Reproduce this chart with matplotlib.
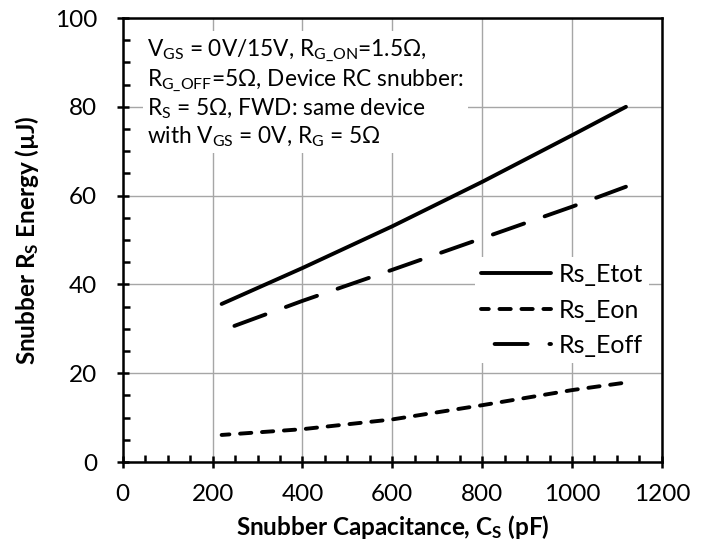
import numpy as np
import matplotlib.pyplot as plt
from matplotlib.ticker import MultipleLocator

plt.rcParams["font.family"] = ["Lato", "DejaVu Sans"]
plt.rcParams["mathtext.fontset"] = "custom"
plt.rcParams["mathtext.rm"] = "Lato"
plt.rcParams["mathtext.it"] = "Lato:italic"
plt.rcParams["mathtext.bf"] = "Lato:bold"

# snubber capacitance (pF) and energies (uJ)
cs_pf = [220, 400, 600, 800, 1000, 1120]
rs_etot = [35.6, 43.7, 53.1, 63.1, 73.6, 80.0]
rs_eon = [6.1, 7.4, 9.6, 12.8, 16.2, 17.9]
rs_eoff = [29.6, 36.3, 43.3, 50.4, 57.5, 62.0]

fig = plt.figure(figsize=(7.14, 5.54), dpi=100)
ax = fig.add_axes([0.172, 0.166, 0.755, 0.8015])

lw = 2.8
ax.plot(cs_pf, rs_etot, color="black", lw=lw, solid_capstyle="round", label="Rs_Etot")
ax.plot(cs_pf, rs_eon, color="black", lw=lw, linestyle=(0.9, (2.9, 2.75)),
        dash_capstyle="round", label="Rs_Eon")
ax.plot(cs_pf, rs_eoff, color="black", lw=lw, linestyle=(10.6, (8.5, 5.6)),
        dash_capstyle="round", label="Rs_Eoff")

ax.set_xlim(0, 1200)
ax.set_ylim(0, 100)
ax.xaxis.set_major_locator(MultipleLocator(200))
ax.xaxis.set_minor_locator(MultipleLocator(50))
ax.yaxis.set_major_locator(MultipleLocator(20))
ax.yaxis.set_minor_locator(MultipleLocator(5))
ax.tick_params(which="major", direction="inout", length=9, width=1.8,
               labelsize=17.5)
ax.tick_params(axis="x", which="major", pad=11)
ax.tick_params(axis="y", which="major", pad=14)
ax.tick_params(which="minor", direction="in", length=5, width=1.8)
ax.grid(True, which="major", color="#a6a6a6", lw=1.0)
ax.set_axisbelow(True)
for sp in ax.spines.values():
    sp.set_linewidth(1.8)

ax.set_xlabel(r"Snubber Capacitance, C$_{\mathregular{S}}$ (pF)",
              fontsize=17.5, fontweight="bold", labelpad=6)
ax.set_ylabel(r"Snubber R$_{\mathregular{S}}$ Energy (µJ)",
              fontsize=17.5, fontweight="bold", labelpad=10)

note = ("V$_{\\mathregular{GS}}$ = 0V/15V, R$_{\\mathregular{G\\_ON}}$=1.5Ω,\n"
        "R$_{\\mathregular{G\\_OFF}}$=5Ω, Device RC snubber:\n"
        "R$_{\\mathregular{S}}$ = 5Ω, FWD: same device\n"
        "with V$_{\\mathregular{GS}}$ = 0V, R$_{\\mathregular{G}}$ = 5Ω")
ax.text(0.045, 0.957, note, transform=ax.transAxes, fontsize=16.3, va="top",
        ha="left", linespacing=1.17,
        bbox=dict(facecolor="white", edgecolor="none", pad=3))

leg = ax.legend(loc="upper right", bbox_to_anchor=(0.976, 0.462), fontsize=18,
                frameon=True, framealpha=1, edgecolor="none", fancybox=False,
                handlelength=2.8, handletextpad=0.3, labelspacing=0.5,
                borderpad=0.25, borderaxespad=0)

fig.savefig("out.png", dpi=100)
